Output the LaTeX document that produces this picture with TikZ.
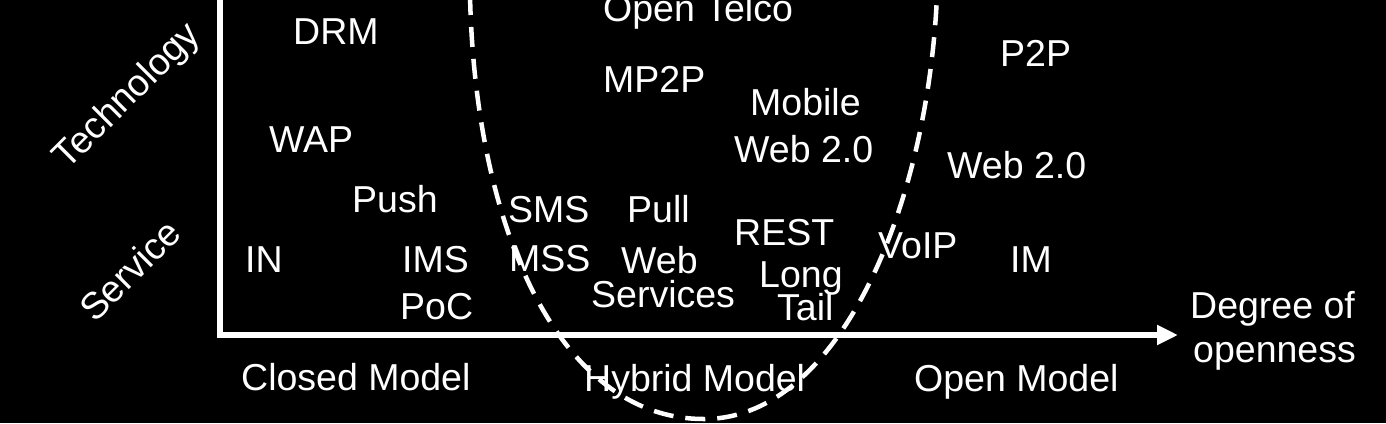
\documentclass[tikz,border=0pt]{standalone}
\usepackage{fontspec}
\setmainfont{Liberation Sans}
\usetikzlibrary{arrows.meta}
\begin{document}
\begin{tikzpicture}[x=1pt,y=-1pt,
  lbl/.style={text=white,inner sep=0pt,anchor=base west,font=\fontsize{37.5}{45}\selectfont},
  rlbl/.style={text=white,inner sep=0pt,anchor=center,rotate=45,font=\fontsize{37.5}{45}\selectfont},
  axis/.style={draw=white,line width=6pt,line join=miter},
  ucurve/.style={draw=white,line width=4.5pt,dash pattern=on 20pt off 12pt}]
\fill[black] (0,0) rectangle (1386,423);
\useasboundingbox (0,0) rectangle (1386,423);

% axes
\coordinate (ytop) at (219.5,-5);
\coordinate (xend) at (1178,335);
\draw[axis,-{Triangle[length=21pt,width=19pt]}] (ytop) |- (xend);

% dashed U curve
\coordinate (cl) at (470,-5);
\coordinate (cb) at (705,419);
\coordinate (cr) at (937,-5);
\draw[ucurve] (cl) .. controls (475,230) and (560,420) .. (cb)
              .. controls (840,418) and (928,205) .. (cr);

% rotated axis labels
\node[rlbl] (tech) at (128,97) {Technology};
\node[rlbl] (serv) at (130,270) {Service};

% labels
\node[lbl] (opentelco) at (603,21) {Open Telco};
\node[lbl] (drm) at (293,44) {DRM};
\node[lbl] (p2p) at (1000,66) {P2P};
\node[lbl] (mp2p) at (603,92) {MP2P};
\node[lbl] (mobile) at (750,115) {Mobile};
\node[lbl] (mweb) at (734,162) {Web 2.0};
\node[lbl] (wap) at (269,152) {WAP};
\node[lbl] (web2) at (947,178) {Web 2.0};
\node[lbl] (push) at (352,212) {Push};
\node[lbl] (sms) at (508,222) {SMS};
\node[lbl] (pull) at (627,222) {Pull};
\node[lbl] (rest) at (734,245) {REST};
\node[lbl] (voip) at (878,258) {VoIP};
\node[lbl] (in) at (245,272) {IN};
\node[lbl] (ims) at (402,272) {IMS};
\node[lbl] (mss) at (509,271) {MSS};
\node[lbl] (im) at (1010,272) {IM};
\node[lbl] (web) at (621,273) {Web};
\node[lbl] (long) at (759,287) {Long};
\node[lbl] (services) at (591,307) {Services};
\node[lbl] (poc) at (400,319) {PoC};
\node[lbl] (tail) at (777,320) {Tail};
\node[lbl] (closed) at (241,390) {Closed Model};
\node[lbl] (hybrid) at (584,391) {Hybrid Model};
\node[lbl] (open) at (914,391) {Open Model};
\node[lbl] (degree) at (1190,318) {Degree of};
\node[lbl] (openness) at (1193,362) {openness};
\end{tikzpicture}
\end{document}
